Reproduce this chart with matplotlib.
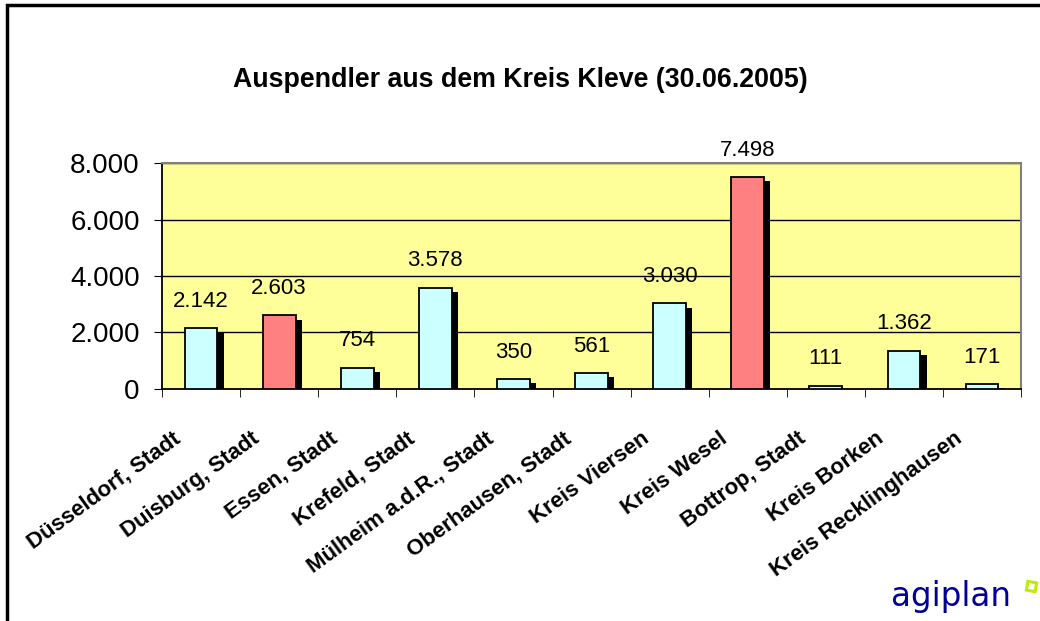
import numpy as np
import matplotlib
matplotlib.use("Agg")
from matplotlib import pyplot as plt
from matplotlib import patheffects as pe
from matplotlib.lines import Line2D
from matplotlib.patches import Rectangle
from matplotlib.transforms import ScaledTranslation

plt.rcParams['font.family'] = ['Liberation Sans', 'DejaVu Sans']

# data
orte = ["Düsseldorf, Stadt", "Duisburg, Stadt", "Essen, Stadt", "Krefeld, Stadt",
        "Mülheim a.d.R., Stadt", "Oberhausen, Stadt", "Kreis Viersen", "Kreis Wesel",
        "Bottrop, Stadt", "Kreis Borken", "Kreis Recklinghausen"]
pendler = [2142, 2603, 754, 3578, 350, 561, 3030, 7498, 111, 1362, 171]
farben = ["#CCFFFF", "#FF8080", "#CCFFFF", "#CCFFFF", "#CCFFFF", "#CCFFFF",
          "#CCFFFF", "#FF8080", "#CCFFFF", "#CCFFFF", "#CCFFFF"]
y_ticks = [0, 2000, 4000, 6000, 8000]


def fmt(v):
    return f"{v:,}".replace(",", ".")


fig = plt.figure(figsize=(10.4, 6.21), dpi=100)
ax = fig.add_axes([0.1558, 0.3736, 0.826, 0.3639])
ax.set_facecolor("#FFFF99")

x = np.arange(len(orte))
shadow = [pe.SimplePatchShadow(offset=(4.5, -3), shadow_rgbFace="black", alpha=1.0), pe.Normal()]
bars = ax.bar(x, pendler, width=0.42, color=farben, edgecolor="black", linewidth=1.3,
              zorder=3, path_effects=shadow)

for xi, v in zip(x, pendler):
    ax.annotate(fmt(v), (xi, v), xytext=(0, 15.5), textcoords="offset points",
                ha="center", va="baseline", fontsize=16, annotation_clip=False)

ax.set_xlim(-0.5, len(orte) - 0.5)
ax.set_ylim(0, 8000)
ax.set_yticks(y_ticks)
ax.set_yticklabels([fmt(t) for t in y_ticks], fontsize=20)
ax.yaxis.grid(True, color="black", linewidth=1, zorder=1)
ax.set_axisbelow(True)

ax.set_xticks(x)
ax.set_xticklabels(orte, rotation=36, ha="right", va="top", rotation_mode="anchor",
                   fontsize=16, fontweight="bold")
ax.tick_params(axis="x", length=0, pad=28)
shift = ScaledTranslation(-20.5 / 72, 0, fig.dpi_scale_trans)
for lab in ax.get_xticklabels():
    lab.set_transform(lab.get_transform() + shift)
ax.set_xticks(np.arange(len(orte) + 1) - 0.5, minor=True)
ax.tick_params(axis="x", which="minor", length=6, direction="out", color="black")
ax.tick_params(axis="y", length=6, direction="out", color="black", pad=10)

ax.spines["left"].set_color("black")
ax.spines["bottom"].set_color("black")
ax.spines["left"].set_linewidth(1.3)
ax.spines["bottom"].set_linewidth(1.3)
ax.spines["top"].set_color("#808080")
ax.spines["right"].set_color("#808080")
ax.spines["top"].set_linewidth(1.5)
ax.spines["right"].set_linewidth(1.5)

fig.text(0.5, 0.871, "Auspendler aus dem Kreis Kleve (30.06.2005)", ha="center", va="center",
         fontsize=19.3, fontweight="bold")

# outer frame
fig.add_artist(Rectangle((7 / 1040, -0.1), 1.2, 1 - 5 / 621 + 0.1, transform=fig.transFigure,
                         fill=False, edgecolor="black", linewidth=2.5))

# logo
fig.text(0.9144, 0.024, "agiplan", ha="center", va="baseline", fontsize=23.5,
         color="#000099", family="DejaVu Sans")
fig.add_artist(Line2D([0.9913], [0.0564], marker=(4, 0, 35), markersize=9,
                      markerfacecolor="none", markeredgecolor="#BBEE00", markeredgewidth=2.2,
                      transform=fig.transFigure))

fig.savefig("out.png", dpi=100)
